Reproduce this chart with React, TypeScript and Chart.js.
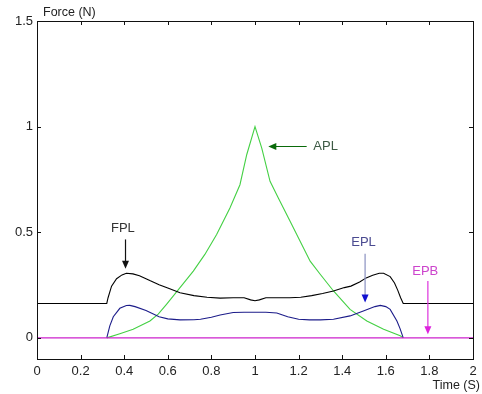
import React, { useEffect, useRef } from "react";
import { Chart, registerables } from "chart.js";

Chart.register(...registerables);

// ---- data (time in s, force in N) ----
const fplTime = [0, 0.32, 0.326, 0.342, 0.365, 0.39, 0.41, 0.44, 0.47, 0.52, 0.56, 0.6, 0.656, 0.72, 0.78, 0.84, 0.9, 0.95, 0.98, 1.0, 1.02, 1.05, 1.1, 1.16, 1.21, 1.26, 1.31, 1.36, 1.41, 1.44, 1.48, 1.51, 1.54, 1.57, 1.59, 1.62, 1.64, 1.655, 1.668, 1.68, 2.0];
const fplForce = [0.163, 0.163, 0.19, 0.245, 0.28, 0.298, 0.306, 0.303, 0.294, 0.27, 0.252, 0.236, 0.214, 0.2, 0.192, 0.188, 0.19, 0.19, 0.18, 0.176, 0.18, 0.19, 0.19, 0.19, 0.192, 0.2, 0.21, 0.222, 0.238, 0.245, 0.265, 0.284, 0.296, 0.306, 0.306, 0.29, 0.26, 0.225, 0.19, 0.163, 0.163];

const eplTime = [0.32, 0.334, 0.35, 0.38, 0.41, 0.426, 0.45, 0.5, 0.56, 0.6, 0.656, 0.72, 0.75, 0.8, 0.84, 0.9, 0.95, 1.0, 1.05, 1.1, 1.15, 1.2, 1.25, 1.3, 1.36, 1.436, 1.5, 1.55, 1.575, 1.6, 1.62, 1.651, 1.665, 1.68];
const eplForce = [0, 0.057, 0.1, 0.14, 0.153, 0.154, 0.148, 0.13, 0.1, 0.09, 0.085, 0.086, 0.088, 0.098, 0.108, 0.12, 0.121, 0.121, 0.121, 0.118, 0.1, 0.088, 0.085, 0.085, 0.088, 0.104, 0.128, 0.148, 0.154, 0.148, 0.135, 0.08, 0.045, 0];

const aplTime = [0.32, 0.38, 0.441, 0.518, 0.556, 0.594, 0.656, 0.717, 0.77, 0.824, 0.885, 0.931, 0.962, 1.0, 1.031, 1.069, 1.107, 1.161, 1.253, 1.3, 1.36, 1.436, 1.513, 1.59, 1.666, 1.68];
const aplForce = [0, 0.02, 0.041, 0.08, 0.112, 0.159, 0.238, 0.316, 0.395, 0.489, 0.615, 0.725, 0.867, 1.0, 0.898, 0.741, 0.662, 0.552, 0.363, 0.3, 0.222, 0.135, 0.08, 0.041, 0.01, 0];

const epbTime = [0, 2];
const epbForce = [0, 0];

const xTicks = [0, 0.2, 0.4, 0.6, 0.8, 1, 1.2, 1.4, 1.6, 1.8, 2];
const yTicks = [0, 0.5, 1, 1.5];
const xLabels = ["0", "0.2", "0.4", "0.6", "0.8", "1", "1.2", "1.4", "1.6", "1.8", "2"];
const yLabels = ["0", "0.5", "1", "1.5"];

// annotation labels and arrows (data coordinates)
const annLabels = ["APL", "FPL", "EPL", "EPB"];
const annTextX = [1.324, 0.394, 1.498, 1.781];
const annTextY = [0.906, 0.517, 0.45, 0.315];
const annFromX = [1.237, 0.406, 1.505, 1.793];
const annFromY = [0.906, 0.466, 0.398, 0.269];
const annToX = [1.061, 0.406, 1.505, 1.793];
const annToY = [0.906, 0.327, 0.167, 0.017];

const annStyle = [
  { text: "#3d5a45", line: "#0a6a0a", head: "#0a6a0a" },
  { text: "#333333", line: "#111111", head: "#111111" },
  { text: "#4a4a90", line: "#8a90c0", head: "#1010d0" },
  { text: "#cc44cc", line: "#dd33dd", head: "#dd22dd" },
];

const toPts = (xs: number[], ys: number[]) => xs.map((x, i) => ({ x, y: ys[i] }));

const framePlugin = {
  id: "frameAndNotes",
  afterDatasetsDraw(chart: any) {
    const { ctx, chartArea: a, scales } = chart;
    const xs = scales.x;
    const ys = scales.y;
    ctx.save();
    // frame
    ctx.strokeStyle = "#111";
    ctx.lineWidth = 1;
    ctx.strokeRect(Math.round(a.left) + 0.5, Math.round(a.top) + 0.5, Math.round(a.right - a.left), Math.round(a.bottom - a.top));
    // inward ticks
    const tl = 4;
    ctx.beginPath();
    xTicks.forEach((v) => {
      const px = Math.round(xs.getPixelForValue(v)) + 0.5;
      ctx.moveTo(px, a.bottom);
      ctx.lineTo(px, a.bottom - tl);
      ctx.moveTo(px, a.top);
      ctx.lineTo(px, a.top + tl);
    });
    yTicks.forEach((v) => {
      const py = Math.round(ys.getPixelForValue(v)) + 0.5;
      ctx.moveTo(a.left, py);
      ctx.lineTo(a.left + tl, py);
      ctx.moveTo(a.right, py);
      ctx.lineTo(a.right - tl, py);
    });
    ctx.stroke();

    // annotations
    annLabels.forEach((lab, i) => {
      const st = annStyle[i];
      const x1 = xs.getPixelForValue(annFromX[i]);
      const y1 = ys.getPixelForValue(annFromY[i]);
      const x2 = xs.getPixelForValue(annToX[i]);
      const y2 = ys.getPixelForValue(annToY[i]);
      const ang = Math.atan2(y2 - y1, x2 - x1);
      const hl = 8;
      const hw = 3.5;
      ctx.strokeStyle = st.line;
      ctx.lineWidth = 1.2;
      ctx.beginPath();
      ctx.moveTo(x1, y1);
      ctx.lineTo(x2 - Math.cos(ang) * hl * 0.6, y2 - Math.sin(ang) * hl * 0.6);
      ctx.stroke();
      ctx.fillStyle = st.head;
      ctx.beginPath();
      ctx.moveTo(x2, y2);
      ctx.lineTo(x2 - Math.cos(ang) * hl - Math.sin(ang) * hw, y2 - Math.sin(ang) * hl + Math.cos(ang) * hw);
      ctx.lineTo(x2 - Math.cos(ang) * hl + Math.sin(ang) * hw, y2 - Math.sin(ang) * hl - Math.cos(ang) * hw);
      ctx.closePath();
      ctx.fill();
      ctx.fillStyle = st.text;
      ctx.font = "13px 'Liberation Sans', Arial, sans-serif";
      ctx.textAlign = "center";
      ctx.textBaseline = "middle";
      ctx.fillText(lab, xs.getPixelForValue(annTextX[i]), ys.getPixelForValue(annTextY[i]));
    });

    // axis titles
    ctx.fillStyle = "#222";
    ctx.font = "12.5px 'Liberation Sans', Arial, sans-serif";
    ctx.textAlign = "left";
    ctx.textBaseline = "middle";
    ctx.fillText("Force (N)", a.left + 6, 13);
    ctx.textAlign = "right";
    ctx.fillText("Time (S)", 480, 386);
    ctx.restore();
  },
};

export default function App() {
  const ref = useRef<HTMLCanvasElement | null>(null);
  useEffect(() => {
    if (!ref.current) return;
    const tickFont = { family: "'Liberation Sans', Arial, sans-serif", size: 13 };
    const chart = new Chart(ref.current, {
      type: "line",
      data: {
        datasets: [
          { label: "EPB", data: toPts(epbTime, epbForce), borderColor: "#cc22cc", borderWidth: 1.3, pointRadius: 0, tension: 0 },
          { label: "FPL", data: toPts(fplTime, fplForce), borderColor: "#000000", borderWidth: 1.1, pointRadius: 0, tension: 0 },
          { label: "EPL", data: toPts(eplTime, eplForce), borderColor: "#1c1c8a", borderWidth: 1.1, pointRadius: 0, tension: 0 },
          { label: "APL", data: toPts(aplTime, aplForce), borderColor: "#44d044", borderWidth: 1.1, pointRadius: 0, tension: 0 },
        ],
      },
      options: {
        responsive: false,
        animation: false,
        events: [],
        layout: { padding: { top: 21, right: 9, left: 0, bottom: 0 } },
        plugins: { legend: { display: false }, tooltip: { enabled: false } },
        scales: {
          x: {
            type: "linear",
            min: 0,
            max: 2,
            grid: { display: false, drawTicks: false },
            border: { display: false },
            afterBuildTicks: (s: any) => {
              s.ticks = xTicks.map((v) => ({ value: v }));
            },
            afterFit: (s: any) => {
              s.height = 35;
            },
            ticks: {
              autoSkip: false,
              maxRotation: 0,
              padding: 5,
              color: "#222",
              font: tickFont,
              callback: (_v: any, i: number) => xLabels[i],
            },
          },
          y: {
            type: "linear",
            min: -0.1,
            max: 1.5,
            grid: { display: false, drawTicks: false },
            border: { display: false },
            afterBuildTicks: (s: any) => {
              s.ticks = yTicks.map((v) => ({ value: v }));
            },
            afterFit: (s: any) => {
              s.width = 37;
            },
            ticks: {
              autoSkip: false,
              padding: 4,
              color: "#222",
              font: tickFont,
              callback: (_v: any, i: number) => yLabels[i],
            },
          },
        },
      },
      plugins: [framePlugin],
    } as any);
    return () => chart.destroy();
  }, []);
  return (
    <div style={{ position: "absolute", left: 0, top: 0, width: 482, height: 394, background: "#fff" }}>
      <canvas ref={ref} width={482} height={394} />
    </div>
  );
}
